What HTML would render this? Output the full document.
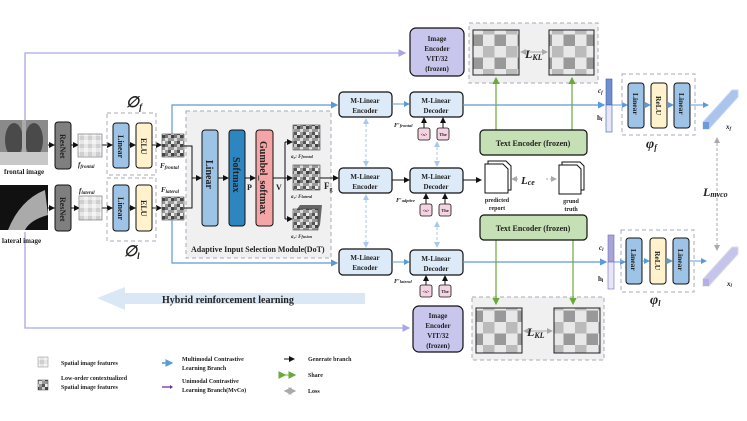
<!DOCTYPE html>
<html><head><meta charset="utf-8"><style>
html,body{margin:0;padding:0;background:#fff}
svg{display:block}
text{font-family:"Liberation Serif",serif;font-weight:bold;fill:#222}
.it{font-style:italic}
</style></head><body>
<svg width="747" height="421" viewBox="0 0 747 421" xmlns="http://www.w3.org/2000/svg">
<defs>
<pattern id="lg" width="8" height="8" patternUnits="userSpaceOnUse">
<rect width="8" height="8" fill="#e6e6e6"/><rect width="4" height="4" fill="#cfcfcf"/><rect x="4" y="4" width="4" height="4" fill="#f4f4f4"/>
</pattern>
<pattern id="dg" width="9" height="9" patternUnits="userSpaceOnUse">
<rect width="9" height="9" fill="#999"/><rect width="3" height="3" fill="#444"/><rect x="3" y="3" width="3" height="3" fill="#ddd"/><rect x="6" y="0" width="3" height="3" fill="#ccc"/><rect x="6" y="6" width="3" height="3" fill="#555"/><rect x="0" y="6" width="3" height="3" fill="#eee"/><rect x="3" y="0" width="3" height="3" fill="#777"/>
</pattern>
<pattern id="kg" width="23" height="23" patternUnits="userSpaceOnUse">
<rect width="23" height="23" fill="#e8e8e8"/><rect width="11.5" height="11.5" fill="#bbb"/><rect x="11.5" y="11.5" width="11.5" height="11.5" fill="#999"/>
</pattern>
<marker id="ab" markerWidth="6" markerHeight="6" refX="5" refY="3" orient="auto"><path d="M0,0L6,3L0,6z" fill="#5b9bd5"/></marker>
<marker id="ak" markerWidth="6" markerHeight="6" refX="5" refY="3" orient="auto"><path d="M0,0L6,3L0,6z" fill="#111"/></marker>
<marker id="ap" markerWidth="6" markerHeight="6" refX="5" refY="3" orient="auto"><path d="M0,0L6,3L0,6z" fill="#a9a6e6"/></marker>
<marker id="ag" markerWidth="6" markerHeight="6" refX="5" refY="3" orient="auto"><path d="M0,0L6,3L0,6z" fill="#6aaa3a"/></marker>
<marker id="ar" markerWidth="6" markerHeight="6" refX="5" refY="3" orient="auto-start-reverse"><path d="M0,0L6,3L0,6z" fill="#aaa"/></marker>
<marker id="al" markerWidth="6" markerHeight="6" refX="5" refY="3" orient="auto-start-reverse"><path d="M0,0L6,3L0,6z" fill="#a8c8ec"/></marker>
</defs>

<path d="M25,125 V53 H405" fill="none" stroke="#a9a6e6" stroke-width="1.3" marker-end="url(#ap)"/>
<path d="M25,232 V328 H409" fill="none" stroke="#a9a6e6" stroke-width="1.3" marker-end="url(#ap)"/>

<rect x="0" y="120" width="48" height="45" fill="#8a8a8a"/>
<ellipse cx="14" cy="140" rx="9" ry="17" fill="#4a4a4a"/><ellipse cx="34" cy="140" rx="9" ry="17" fill="#4a4a4a"/>
<rect x="22" y="120" width="4" height="45" fill="#aaa"/>
<rect x="0" y="152" width="48" height="13" fill="#c8c8c8"/>
<text x="4" y="174" font-size="7">frontal image</text>
<rect x="0" y="185" width="48" height="45" fill="#111"/>
<path d="M8,230 Q20,200 45,190 L48,215 Q30,220 25,230z" fill="#aaa"/>
<text x="2" y="243" font-size="7">lateral image</text>

<g stroke="#111" stroke-width="1">
<rect x="55" y="122" width="16" height="47" rx="3" fill="#7f7f7f"/>
<rect x="55" y="185" width="16" height="46" rx="3" fill="#7f7f7f"/>
</g>
<text transform="translate(60,134) rotate(90)" font-size="8" fill="#fff">ResNet</text>
<text transform="translate(60,197) rotate(90)" font-size="8" fill="#fff">ResNet</text>
<g stroke="#111" stroke-width="1" marker-end="url(#ak)">
<line x1="48" y1="145" x2="54" y2="145"/><line x1="48" y1="208" x2="54" y2="208"/>
<line x1="71" y1="145" x2="78" y2="145"/><line x1="71" y1="208" x2="79" y2="208"/>
<line x1="102" y1="145" x2="112" y2="145"/><line x1="102" y1="208" x2="112" y2="208"/>
<line x1="129" y1="145" x2="135" y2="145"/><line x1="129" y1="208" x2="135" y2="208"/>
<line x1="152" y1="145" x2="161" y2="145"/><line x1="152" y1="208" x2="161" y2="208"/>
</g>
<rect x="78" y="134" width="24" height="23" fill="url(#lg)" stroke="#666" stroke-width="0.6"/>
<rect x="79" y="196" width="23" height="24" fill="url(#lg)" stroke="#666" stroke-width="0.6"/>
<text x="78" y="167" font-size="7" class="it">f<tspan font-size="5" dy="1">frontal</tspan></text>
<text x="79" y="193" font-size="7" class="it">f<tspan font-size="5" dy="1">lateral</tspan></text>

<rect x="107" y="113" width="49" height="62" fill="none" stroke="#aab" stroke-dasharray="4,3"/>
<rect x="107" y="178" width="49" height="63" fill="none" stroke="#aab" stroke-dasharray="4,3"/>
<text x="126" y="107" font-size="15" font-weight="normal" class="it">∅<tspan font-size="9" dy="3">f</tspan></text>
<text x="124" y="256" font-size="15" font-weight="normal" class="it">∅<tspan font-size="9" dy="3">l</tspan></text>
<g stroke="#111" stroke-width="1">
<rect x="113" y="123" width="16" height="45" rx="3" fill="#9dc3e6"/>
<rect x="136" y="123" width="16" height="45" rx="3" fill="#fff2cc"/>
<rect x="113" y="185" width="16" height="46" rx="3" fill="#9dc3e6"/>
<rect x="136" y="185" width="16" height="46" rx="3" fill="#fff2cc"/>
</g>
<g font-size="8">
<text transform="translate(118,135) rotate(90)">Linear</text>
<text transform="translate(141,138) rotate(90)">ELU</text>
<text transform="translate(118,197) rotate(90)">Linear</text>
<text transform="translate(141,200) rotate(90)">ELU</text>
</g>
<rect x="162" y="134" width="22" height="23" fill="url(#dg)" stroke="#444" stroke-width="0.6"/>
<rect x="162" y="197" width="22" height="23" fill="url(#dg)" stroke="#444" stroke-width="0.6"/>
<text x="160" y="168" font-size="7" class="it">F<tspan font-size="5" dy="1">frontal</tspan></text>
<text x="161" y="192" font-size="7" class="it">F<tspan font-size="5" dy="1">lateral</tspan></text>

<path d="M172,134 V105 H337" fill="none" stroke="#5b9bd5" stroke-width="1.2" marker-end="url(#ab)"/>
<path d="M172,220 V263 H337" fill="none" stroke="#5b9bd5" stroke-width="1.2" marker-end="url(#ab)"/>

<rect x="186" y="111" width="145" height="147" fill="#f0f0f0" stroke="#aab" stroke-dasharray="4,3"/>
<path d="M184,146 H192 V178 H201 M184,208 H192 V178" fill="none" stroke="#111" stroke-width="1" />
<line x1="192" y1="178" x2="201" y2="178" stroke="#111" marker-end="url(#ak)"/>
<g stroke="#111" stroke-width="1">
<rect x="202" y="130" width="16" height="96" rx="3" fill="#9dc3e6"/>
<rect x="229" y="130" width="16" height="96" rx="3" fill="#2e86c1"/>
<rect x="256" y="130" width="17" height="96" rx="3" fill="#f4a6a6"/>
</g>
<g stroke="#111" stroke-width="1" marker-end="url(#ak)">
<line x1="218" y1="178" x2="228" y2="178"/><line x1="245" y1="178" x2="255" y2="178"/>
</g>
<path d="M273,178 H285 M285,142 V219" fill="none" stroke="#111"/>
<g stroke="#111" marker-end="url(#ak)"><line x1="285" y1="142" x2="292" y2="142"/><line x1="285" y1="178" x2="292" y2="178"/><line x1="285" y1="219" x2="292" y2="219"/><line x1="320" y1="178" x2="338" y2="178"/></g>
<g font-size="10">
<text transform="translate(206,160) rotate(90)">Linear</text>
<text transform="translate(233,157) rotate(90)">Softmax</text>
<text transform="translate(260,141) rotate(90)">Gumbel_softmax</text>
</g>
<text x="247" y="190" font-size="8" font-weight="normal">P</text>
<text x="276" y="190" font-size="8" font-weight="normal">V</text>
<text x="324" y="189" font-size="9" font-weight="normal">F<tspan font-size="6" dy="2">g</tspan></text>
<rect x="293" y="125" width="27" height="25" fill="url(#dg)" stroke="#444" stroke-width="0.6"/>
<rect x="293" y="165" width="27" height="25" fill="url(#dg)" stroke="#444" stroke-width="0.6"/>
<path d="M297,209 L300,205 L322,205 L320,225 L317,230 Z" fill="#666"/>
<rect x="293" y="209" width="25" height="21" fill="url(#dg)" stroke="#444" stroke-width="0.6"/>
<g font-size="5" class="it"><text x="291" y="158">a₀: F<tspan font-size="4">frontal</tspan></text><text x="291" y="198">a₁: F<tspan font-size="4">lateral</tspan></text><text x="291" y="238">a₂: F<tspan font-size="4">fusion</tspan></text></g>
<text x="191" y="252" font-size="8">Adaptive Input Selection Module(DoT)</text>

<g stroke="#a8c8ec" stroke-dasharray="3,2" marker-end="url(#al)" marker-start="url(#al)">
<line x1="366" y1="119" x2="366" y2="166"/><line x1="366" y1="195" x2="366" y2="247"/>
<line x1="437" y1="142" x2="437" y2="166"/><line x1="437" y1="222" x2="437" y2="247"/>
</g>
<g stroke="#111" stroke-width="1.2" fill="#ddeaf8">
<rect x="339" y="92" width="53" height="25" rx="4"/><rect x="339" y="168" width="53" height="25" rx="4"/><rect x="339" y="249" width="53" height="26" rx="4"/>
<rect x="410" y="92" width="53" height="25" rx="4"/><rect x="410" y="168" width="53" height="25" rx="4"/><rect x="410" y="250" width="53" height="25" rx="4"/>
</g>
<g font-size="7" text-anchor="middle">
<text x="365" y="103">M-Linear</text><text x="365" y="113">Encoder</text>
<text x="365" y="179">M-Linear</text><text x="365" y="189">Encoder</text>
<text x="365" y="260">M-Linear</text><text x="365" y="270">Encoder</text>
<text x="436" y="103">M-Linear</text><text x="436" y="113">Decoder</text>
<text x="436" y="179">M-Linear</text><text x="436" y="189">Decoder</text>
<text x="436" y="261">M-Linear</text><text x="436" y="271">Decoder</text>
</g>
<line x1="392" y1="104" x2="409" y2="104" stroke="#5b9bd5" marker-end="url(#ab)"/>
<line x1="392" y1="180" x2="409" y2="180" stroke="#111" marker-end="url(#ak)"/>
<line x1="392" y1="262" x2="409" y2="262" stroke="#5b9bd5" marker-end="url(#ab)"/>
<g font-size="6" class="it"><text x="394" y="127">F′<tspan font-size="4.5">frontal</tspan></text><text x="396" y="202">F′<tspan font-size="4.5">adptive</tspan></text><text x="394" y="283">F′<tspan font-size="4.5">lateral</tspan></text></g>
<g stroke="#111" stroke-width="0.8" fill="#f6d3e3">
<rect x="418" y="128" width="12" height="12" rx="2"/><rect x="437" y="128" width="12" height="12" rx="2"/>
<rect x="420" y="204" width="12" height="12" rx="2"/><rect x="439" y="204" width="12" height="12" rx="2"/>
<rect x="420" y="285" width="12" height="12" rx="2"/><rect x="439" y="285" width="12" height="12" rx="2"/>
</g>
<g font-size="4.5" text-anchor="middle"><text x="424" y="136">&lt;s&gt;</text><text x="443" y="136">The</text><text x="426" y="212">&lt;s&gt;</text><text x="445" y="212">The</text><text x="426" y="293">&lt;s&gt;</text><text x="445" y="293">The</text></g>
<g stroke="#111" marker-end="url(#ak)"><line x1="424" y1="128" x2="424" y2="118"/><line x1="443" y1="128" x2="443" y2="118"/><line x1="426" y1="204" x2="426" y2="194"/><line x1="445" y1="204" x2="445" y2="194"/><line x1="426" y1="285" x2="426" y2="276"/><line x1="445" y1="285" x2="445" y2="276"/>
<line x1="463" y1="180" x2="481" y2="180"/></g>

<line x1="463" y1="105" x2="604" y2="105" stroke="#5b9bd5" stroke-width="1.2" marker-end="url(#ab)"/>
<line x1="463" y1="262" x2="606" y2="262" stroke="#5b9bd5" stroke-width="1.2" marker-end="url(#ab)"/>

<g stroke="#111" stroke-width="1.2" fill="#c9c6ee">
<rect x="410" y="28" width="54" height="48" rx="6"/><rect x="413" y="306" width="50" height="46" rx="6"/>
</g>
<g font-size="7" text-anchor="middle"><text x="437" y="41">Image</text><text x="437" y="51">Encoder</text><text x="437" y="61">VIT/32</text><text x="437" y="71">(frozen)</text>
<text x="438" y="318">Image</text><text x="438" y="328">Encoder</text><text x="438" y="338">VIT/32</text><text x="438" y="348">(frozen)</text></g>

<rect x="469" y="23" width="129" height="60" fill="#f0f0f0" stroke="#aab" stroke-dasharray="4,3"/>
<rect x="473" y="30" width="46" height="45" fill="url(#kg)" stroke="#222"/>
<rect x="549" y="30" width="45" height="45" fill="url(#kg)" stroke="#222"/>
<line x1="521" y1="52" x2="547" y2="52" stroke="#aaa" marker-start="url(#ar)" marker-end="url(#ar)"/>
<text x="525" y="58" font-size="12" class="it">L<tspan font-size="8" dy="2">KL</tspan></text>
<rect x="472" y="297" width="132" height="63" fill="#f0f0f0" stroke="#aab" stroke-dasharray="4,3"/>
<rect x="476" y="308" width="46" height="45" fill="url(#kg)" stroke="#222"/>
<rect x="554" y="308" width="46" height="45" fill="url(#kg)" stroke="#222"/>
<line x1="524" y1="331" x2="552" y2="331" stroke="#aaa" marker-start="url(#ar)" marker-end="url(#ar)"/>
<text x="527" y="336" font-size="12" class="it">L<tspan font-size="8" dy="2">KL</tspan></text>

<g stroke="#6aaa3a" stroke-width="1.2">
<line x1="496" y1="130" x2="496" y2="78" marker-end="url(#ag)"/><line x1="572" y1="130" x2="572" y2="78" marker-end="url(#ag)"/>
<line x1="496" y1="240" x2="496" y2="304" marker-end="url(#ag)"/><line x1="573" y1="240" x2="573" y2="304" marker-end="url(#ag)"/>
</g>
<g stroke="#111" stroke-width="1.2" fill="#c5e0b4">
<rect x="480" y="130" width="107" height="25" rx="4"/><rect x="480" y="215" width="107" height="25" rx="4"/>
</g>
<text x="533" y="146" font-size="8" text-anchor="middle">Text Encoder  (frozen)</text>
<text x="533" y="231" font-size="8" text-anchor="middle">Text Encoder  (frozen)</text>

<g fill="#fff" stroke="#111" stroke-width="1">
<path d="M488,161 H506 L511,166 V190 H488 Z"/><path d="M485,164 H503 L508,169 V193 H485 Z"/>
<path d="M562,162 H580 L584,166 V190 H562 Z"/><path d="M559,165 H577 L581,169 V194 H559 Z"/>
</g>
<text x="497" y="202" font-size="6" text-anchor="middle">predicted</text><text x="497" y="210" font-size="6" text-anchor="middle">report</text>
<text x="571" y="203" font-size="6" text-anchor="middle">grund</text><text x="571" y="211" font-size="6" text-anchor="middle">truth</text>
<line x1="512" y1="179" x2="520" y2="179" stroke="#aaa" stroke-dasharray="2,2" marker-start="url(#ar)"/>
<line x1="546" y1="179" x2="556" y2="179" stroke="#aaa" stroke-dasharray="2,2" marker-end="url(#ar)"/>
<text x="521" y="184" font-size="11" class="it">L<tspan font-size="8" dy="1">ce</tspan></text>

<rect x="606" y="79" width="6" height="26" fill="#6f8fd0" stroke="#3d5ea8" stroke-width="0.6"/>
<rect x="606" y="105" width="6" height="27" fill="#e6e6f6" stroke="#3d5ea8" stroke-width="0.6"/>
<text x="598" y="93" font-size="7" class="it">c<tspan font-size="5" dy="1">f</tspan></text>
<text x="597" y="120" font-size="7">h<tspan font-size="5" dy="1">f</tspan></text>
<rect x="608" y="235" width="6" height="27" fill="#a8a4d8" stroke="#6f6ab8" stroke-width="0.6"/>
<rect x="608" y="262" width="6" height="27" fill="#e6e6f6" stroke="#6f6ab8" stroke-width="0.6"/>
<text x="599" y="250" font-size="7" class="it">c<tspan font-size="5" dy="1">l</tspan></text>
<text x="598" y="281" font-size="7">h<tspan font-size="5" dy="1">l</tspan></text>
<line x1="612" y1="105" x2="627" y2="105" stroke="#5b9bd5" marker-end="url(#ab)"/>
<line x1="614" y1="262" x2="625" y2="262" stroke="#5b9bd5" marker-end="url(#ab)"/>
<rect x="622" y="74" width="73" height="61" fill="none" stroke="#aab" stroke-dasharray="4,3"/>
<rect x="621" y="230" width="73" height="62" fill="none" stroke="#aab" stroke-dasharray="4,3"/>
<g stroke="#111" stroke-width="1">
<rect x="628" y="83" width="16" height="45" rx="3" fill="#9dc3e6"/><rect x="651" y="83" width="16" height="45" rx="3" fill="#fff2cc"/><rect x="674" y="83" width="16" height="45" rx="3" fill="#9dc3e6"/>
<rect x="626" y="238" width="16" height="46" rx="3" fill="#9dc3e6"/><rect x="650" y="238" width="16" height="46" rx="3" fill="#fff2cc"/><rect x="673" y="238" width="16" height="46" rx="3" fill="#9dc3e6"/>
</g>
<g font-size="7.5"><text transform="translate(633,93) rotate(90)">Linear</text><text transform="translate(656,96) rotate(90)">ReLU</text><text transform="translate(679,93) rotate(90)">Linear</text>
<text transform="translate(631,249) rotate(90)">Linear</text><text transform="translate(655,251) rotate(90)">ReLU</text><text transform="translate(678,249) rotate(90)">Linear</text></g>
<g stroke="#5b9bd5" marker-end="url(#ab)"><line x1="644" y1="105" x2="650" y2="105"/><line x1="667" y1="105" x2="673" y2="105"/><line x1="690" y1="105" x2="708" y2="105"/>
<line x1="642" y1="261" x2="649" y2="261"/><line x1="666" y1="261" x2="672" y2="261"/><line x1="689" y1="261" x2="706" y2="261"/></g>
<text x="646" y="148" font-size="14" font-weight="normal" class="it">φ<tspan font-size="8" dy="2">f</tspan></text>
<text x="650" y="304" font-size="14" font-weight="normal" class="it">φ<tspan font-size="8" dy="2">l</tspan></text>
<path d="M703,122 L732,90 L738,90 L738,97 L709,129 L703,129Z" fill="#aac4ec" stroke="#c8d8f4"/>
<rect x="703" y="122" width="6" height="7" fill="#6f99dd"/>
<path d="M703,279 L732,247 L738,247 L738,254 L709,286 L703,286Z" fill="#c6c3ec" stroke="#ddd"/>
<rect x="703" y="279" width="6" height="7" fill="#b4b0e6"/>
<text x="726" y="129" font-size="7" class="it">x<tspan font-size="5" dy="1">f</tspan></text>
<text x="727" y="286" font-size="7" class="it">x<tspan font-size="5" dy="1">l</tspan></text>
<line x1="717" y1="138" x2="717" y2="250" stroke="#aaa" stroke-dasharray="3,2" marker-start="url(#ar)" marker-end="url(#ar)"/>
<text x="703" y="196" font-size="12" class="it">L<tspan font-size="8" dy="1">mvco</tspan></text>

<path d="M97,298 L125,287 L125,293 L365,293 L365,304 L125,304 L125,310 Z" fill="#dae8f5"/>
<text x="162" y="303" font-size="10">Hybrid reinforcement learning</text>

<rect x="38" y="357" width="10" height="10" fill="url(#lg)" stroke="#888" stroke-width="0.5"/>
<rect x="38" y="380" width="10" height="10" fill="url(#dg)" stroke="#444" stroke-width="0.5"/>
<g font-size="6">
<text x="61" y="365">Spatial image features</text>
<text x="61" y="380">Low-order contextualized</text><text x="61" y="389">Spatial image features</text>
<text x="182" y="361">Multimodal Contrastive</text><text x="182" y="370">Learning Branch</text>
<text x="182" y="383">Unimodal Contrastive</text><text x="182" y="392">Learning Branch(MvCo)</text>
<text x="308" y="361">Generate branch</text><text x="308" y="377">Share</text><text x="308" y="393">Loss</text>
</g>
<line x1="162" y1="363" x2="172" y2="363" stroke="#2e86c1" stroke-width="1.3" marker-end="url(#ab)"/>
<line x1="162" y1="387" x2="172" y2="387" stroke="#7030a0" stroke-width="1.3"/>
<path d="M170,385 L173,387 L170,389z" fill="#7030a0"/>
<line x1="284" y1="359" x2="294" y2="359" stroke="#111" marker-end="url(#ak)"/>
<line x1="285" y1="375" x2="295" y2="375" stroke="#8fcf6a" stroke-width="1.3" marker-start="url(#ag)" marker-end="url(#ag)"/>
<line x1="285" y1="391" x2="295" y2="391" stroke="#aaa" stroke-width="1.3" marker-start="url(#ar)" marker-end="url(#ar)"/>
</svg>
</body></html>
